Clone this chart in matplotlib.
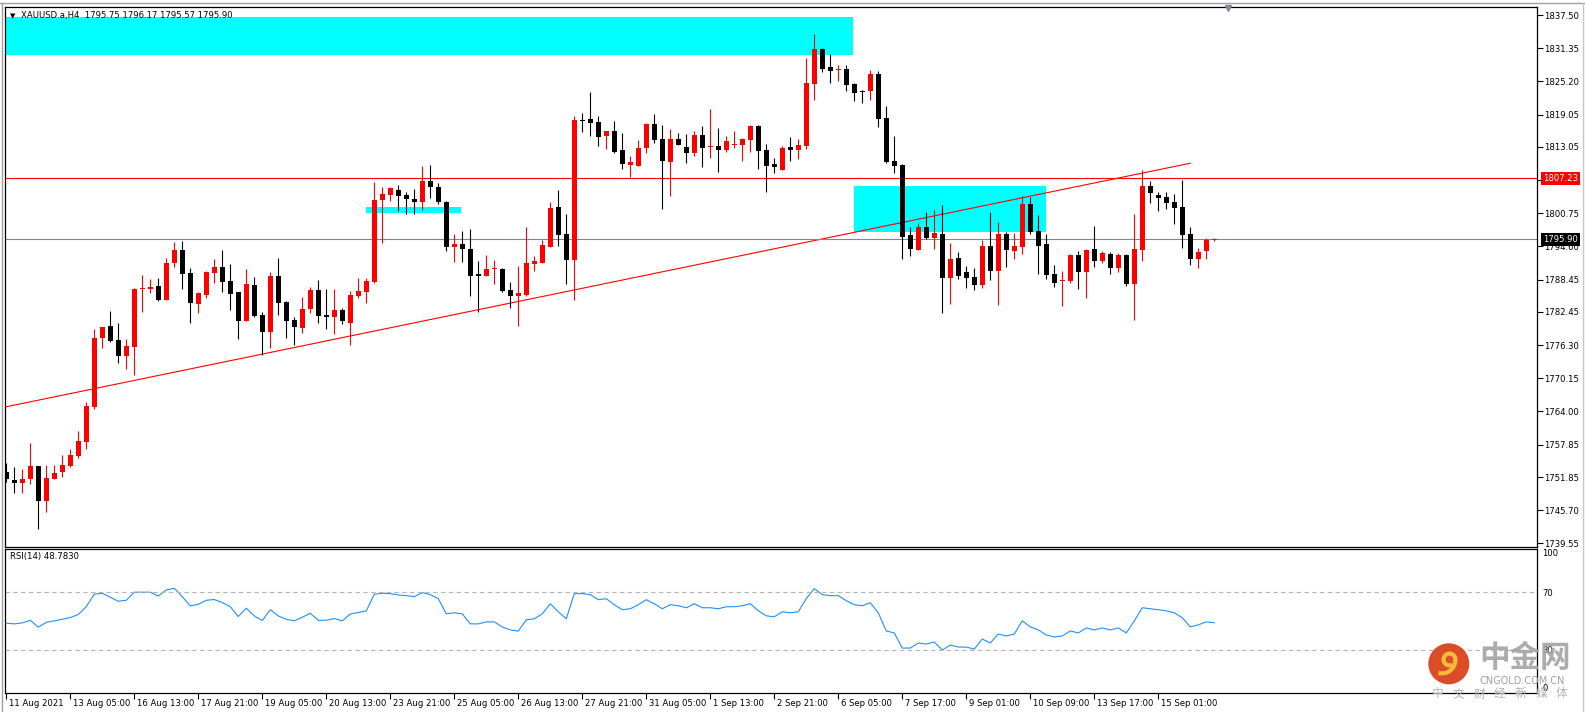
import matplotlib.pyplot as plt
import matplotlib.transforms as mtransforms
from matplotlib.patches import Rectangle, Circle, Wedge
from matplotlib.lines import Line2D
import numpy as np

plt.rcParams['font.family'] = ['DejaVu Sans']

# XAUUSD H4 candles (bar index 0 = 11 Aug 2021)
opens = [1752.72, 1751.30, 1750.67, 1751.41, 1753.89, 1747.46, 1751.54, 1752.83, 1753.95, 1755.80,
         1758.39, 1764.89, 1777.68, 1779.84, 1777.25, 1774.34, 1776.02, 1786.64, 1786.77, 1787.26,
         1784.67, 1791.59, 1793.93, 1789.67, 1783.98, 1785.65, 1789.73, 1790.78, 1788.19, 1786.14,
         1780.83, 1787.45, 1781.88, 1778.79, 1789.11, 1784.29, 1780.96, 1779.54, 1782.93, 1786.52,
         1781.88, 1781.57, 1782.75, 1780.46, 1785.46, 1786.21, 1788.07, 1803.20, 1804.13, 1805.06,
         1804.13, 1803.39, 1802.90, 1806.72, 1805.68, 1802.90, 1794.56, 1795.05, 1794.12, 1789.49,
         1789.17, 1790.34, 1790.41, 1786.52, 1785.46, 1785.59, 1791.40, 1791.59, 1794.55, 1801.90,
         1796.90, 1792.14, 1818.03, 1818.22, 1817.66, 1815.13, 1815.99, 1812.47, 1809.75, 1809.56,
         1812.78, 1817.35, 1814.51, 1810.31, 1814.51, 1813.03, 1811.98, 1815.25, 1813.09, 1813.21,
         1812.47, 1813.34, 1813.46, 1814.39, 1816.98, 1812.47, 1809.88, 1808.82, 1813.03, 1812.53,
         1813.27, 1824.77, 1831.20, 1827.86, 1827.24, 1827.49, 1824.71, 1823.41, 1823.47, 1826.56,
         1818.41, 1810.43, 1809.69, 1796.71, 1793.99, 1798.19, 1796.22, 1796.90, 1788.81, 1792.45,
         1789.79, 1788.92, 1787.45, 1794.67, 1790.10, 1796.90, 1793.81, 1794.56, 1802.46, 1797.46,
         1795.05, 1789.49, 1788.24, 1788.24, 1793.01, 1789.92, 1794.12, 1791.95, 1793.20, 1790.66,
         1793.01, 1787.69, 1793.99, 1805.80, 1804.13, 1803.76, 1802.83, 1801.90, 1796.90, 1792.33,
         1793.81, 1795.75]
highs = [1754.38, 1753.64, 1753.34, 1758.09, 1753.89, 1754.08, 1754.08, 1755.93, 1757.04, 1760.38,
         1765.69, 1779.29, 1779.71, 1782.62, 1780.34, 1777.44, 1786.82, 1789.30, 1788.56, 1788.68,
         1792.39, 1795.35, 1795.60, 1790.53, 1786.21, 1790.04, 1792.27, 1793.93, 1791.34, 1786.14,
         1790.35, 1788.92, 1782.38, 1789.85, 1792.45, 1784.48, 1781.57, 1785.29, 1787.14, 1788.37,
         1786.71, 1786.71, 1783.12, 1786.39, 1788.81, 1788.81, 1806.61, 1805.55, 1805.68, 1805.98,
         1804.68, 1805.25, 1809.56, 1809.69, 1806.42, 1803.02, 1796.90, 1797.51, 1797.83, 1791.89,
         1793.01, 1792.08, 1790.53, 1788.07, 1791.02, 1798.19, 1792.82, 1795.79, 1802.83, 1805.06,
         1800.61, 1818.77, 1819.34, 1823.22, 1818.77, 1815.99, 1817.85, 1815.63, 1811.30, 1814.33,
         1817.54, 1819.21, 1817.11, 1816.37, 1815.63, 1815.44, 1815.99, 1816.92, 1820.08, 1816.56,
         1815.07, 1815.99, 1814.76, 1817.17, 1817.11, 1813.59, 1810.98, 1813.21, 1814.88, 1814.51,
         1829.53, 1833.98, 1831.39, 1830.27, 1828.29, 1828.29, 1824.96, 1823.60, 1827.30, 1827.12,
         1820.63, 1815.13, 1809.88, 1798.25, 1799.00, 1800.98, 1801.35, 1802.28, 1795.30, 1793.56,
         1790.96, 1790.59, 1795.79, 1800.98, 1799.12, 1797.27, 1797.09, 1803.94, 1803.82, 1800.42,
         1796.83, 1791.15, 1790.04, 1793.20, 1793.75, 1794.12, 1798.38, 1793.75, 1793.50, 1793.38,
         1793.20, 1800.61, 1808.77, 1806.66, 1804.68, 1804.68, 1804.32, 1806.97, 1798.19, 1794.31,
         1796.18, 1796.17]
lows = [1750.99, 1748.82, 1748.82, 1750.49, 1742.14, 1745.42, 1751.48, 1751.79, 1753.76, 1755.31,
        1756.98, 1764.39, 1775.83, 1776.93, 1772.92, 1771.81, 1770.82, 1782.51, 1785.90, 1784.42,
        1784.67, 1790.72, 1786.77, 1780.46, 1782.32, 1785.10, 1787.88, 1786.21, 1782.81, 1777.37,
        1780.83, 1781.45, 1774.47, 1775.70, 1781.94, 1777.68, 1776.32, 1778.61, 1782.19, 1780.46,
        1779.29, 1778.29, 1780.22, 1776.32, 1784.97, 1784.17, 1787.75, 1795.29, 1803.07, 1801.16,
        1800.61, 1800.61, 1801.35, 1803.64, 1802.46, 1793.81, 1791.77, 1791.77, 1785.46, 1782.50,
        1789.11, 1787.56, 1786.08, 1783.24, 1779.90, 1785.46, 1790.10, 1791.59, 1794.55, 1794.73,
        1787.63, 1784.66, 1815.87, 1815.07, 1813.27, 1812.66, 1811.98, 1808.95, 1807.46, 1809.56,
        1811.85, 1813.83, 1801.60, 1804.00, 1813.46, 1810.13, 1811.42, 1809.39, 1811.05, 1808.46,
        1812.17, 1812.78, 1810.49, 1812.17, 1809.01, 1804.75, 1808.27, 1808.82, 1810.49, 1810.87,
        1812.72, 1821.80, 1827.00, 1824.96, 1825.32, 1823.47, 1821.61, 1821.25, 1821.80, 1816.80,
        1810.00, 1808.27, 1792.33, 1792.88, 1793.99, 1796.03, 1794.18, 1782.32, 1783.93, 1788.49,
        1786.95, 1786.58, 1786.95, 1788.37, 1783.74, 1790.78, 1792.33, 1793.25, 1796.96, 1789.49,
        1788.62, 1787.14, 1783.61, 1787.88, 1786.77, 1785.10, 1790.85, 1791.59, 1789.55, 1789.92,
        1787.32, 1781.02, 1791.95, 1802.71, 1801.22, 1801.60, 1798.82, 1794.37, 1791.21, 1790.66,
        1792.33, 1795.57]
closes = [1751.41, 1750.67, 1751.48, 1753.89, 1747.46, 1751.66, 1752.59, 1754.08, 1755.93, 1758.52,
          1765.01, 1777.62, 1779.65, 1777.12, 1774.34, 1776.14, 1786.70, 1786.89, 1787.07, 1784.67,
          1791.53, 1793.93, 1789.55, 1784.17, 1785.97, 1789.85, 1790.78, 1788.07, 1785.84, 1780.83,
          1787.63, 1781.76, 1778.79, 1789.11, 1784.17, 1780.83, 1779.71, 1783.00, 1786.52, 1781.76,
          1781.45, 1782.81, 1780.77, 1785.59, 1786.33, 1788.19, 1803.20, 1804.38, 1805.43, 1803.94,
          1803.39, 1802.83, 1806.72, 1805.55, 1802.90, 1794.56, 1794.98, 1794.12, 1789.17, 1789.17,
          1790.41, 1790.47, 1786.33, 1785.46, 1785.96, 1791.52, 1791.89, 1794.92, 1801.71, 1796.77,
          1792.14, 1818.03, 1817.79, 1817.54, 1814.95, 1815.99, 1812.17, 1809.81, 1810.24, 1812.85,
          1817.35, 1814.39, 1810.49, 1814.51, 1813.46, 1811.98, 1815.25, 1812.91, 1813.21, 1812.53,
          1814.14, 1813.59, 1814.57, 1816.98, 1812.34, 1809.56, 1809.39, 1812.85, 1812.53, 1813.40,
          1824.90, 1831.20, 1827.55, 1827.18, 1827.49, 1824.58, 1823.10, 1823.16, 1826.56, 1818.28,
          1810.31, 1809.56, 1796.40, 1794.18, 1798.19, 1796.22, 1797.15, 1788.81, 1792.27, 1789.17,
          1788.81, 1787.45, 1794.67, 1790.10, 1796.90, 1793.93, 1794.67, 1802.46, 1797.27, 1794.73,
          1789.30, 1787.75, 1788.37, 1793.01, 1789.92, 1793.93, 1791.95, 1793.38, 1790.66, 1793.01,
          1787.69, 1794.12, 1805.80, 1804.56, 1803.64, 1802.71, 1801.78, 1796.71, 1792.27, 1793.56,
          1795.80, 1795.90]

# RSI(14) values
rsi = [48.5, 48.0, 48.7, 50.5, 45.7, 49.1, 50.1, 51.2, 52.4, 54.5,
       60.0, 68.6, 69.3, 66.5, 63.7, 64.4, 70.0, 70.0, 70.0, 67.4,
       71.6, 72.7, 66.9, 60.5, 61.6, 64.4, 64.9, 62.8, 60.0, 53.1,
       58.9, 53.5, 50.3, 57.9, 53.5, 51.2, 50.1, 52.6, 55.4, 50.5,
       50.5, 51.7, 50.1, 54.9, 55.9, 57.0, 68.6, 69.3, 69.0, 68.1,
       67.6, 66.9, 69.7, 68.3, 65.5, 55.0, 55.7, 55.0, 48.0, 48.0,
       49.4, 49.4, 45.9, 43.8, 43.0, 50.8, 51.5, 55.0, 62.0, 56.4,
       51.5, 69.0, 69.0, 68.3, 64.8, 65.5, 61.3, 57.8, 58.5, 61.3,
       64.8, 62.0, 58.5, 61.3, 60.6, 59.2, 62.0, 59.2, 59.2, 58.5,
       59.9, 59.9, 60.6, 62.0, 57.1, 53.6, 52.9, 56.4, 55.7, 56.4,
       65.5, 72.5, 68.3, 67.6, 67.6, 64.1, 61.3, 60.6, 62.7, 55.7,
       43.1, 41.7, 31.2, 31.2, 34.7, 34.0, 35.4, 29.8, 33.3, 31.9,
       31.9, 30.5, 37.5, 34.7, 41.0, 39.6, 41.0, 50.1, 45.9, 43.8,
       40.3, 38.9, 39.6, 43.1, 41.7, 45.2, 43.8, 45.2, 43.8, 45.2,
       41.7, 50.1, 59.2, 58.5, 57.8, 57.1, 55.7, 52.2, 45.9, 47.3,
       49.4, 48.78]

time_labels = ['11 Aug 2021', '13 Aug 05:00', '16 Aug 13:00', '17 Aug 21:00', '19 Aug 05:00',
               '20 Aug 13:00', '23 Aug 21:00', '25 Aug 05:00', '26 Aug 13:00', '27 Aug 21:00',
               '31 Aug 05:00', '1 Sep 13:00', '2 Sep 21:00', '6 Sep 05:00', '7 Sep 17:00',
               '9 Sep 01:00', '10 Sep 09:00', '13 Sep 17:00', '15 Sep 01:00']
price_ticks = [1837.50, 1831.35, 1825.20, 1819.05, 1813.05, 1806.90, 1800.75, 1794.60, 1788.45,
               1782.45, 1776.30, 1770.15, 1764.00, 1757.85, 1751.85, 1745.70, 1739.55]
rsi_levels = [70, 30]

# drawn objects: cyan zones, trendline, horizontal lines
zone_x0 = [-1, 44.96, 105.96]
zone_x1 = [105.8, 56.9, 129.96]
zone_lo = [1830.08, 1800.85, 1797.33]
zone_hi = [1837.13, 1801.96, 1805.80]
trend_x = [-1, 148]
trend_y = [1764.57, 1810.02]
level_price = 1807.23
bid_price = 1795.90

W, H = 1585, 712
fs = 6.1
fig = plt.figure(figsize=(W / 100, H / 100), dpi=100)

def fx(px):
    return px / W

def fy(py):
    return 1 - py / H

ax = fig.add_axes([fx(5), fy(546.7), 1531.7 / W, 540 / H])
rsi_ax = fig.add_axes([fx(5), fy(693), 1531.7 / W, 144 / H])

x_left, x_right = -0.16, 191.3
n = len(closes)
idx = np.arange(n)

# zones
for x0, x1, lo, hi in zip(zone_x0, zone_x1, zone_lo, zone_hi):
    ax.add_patch(Rectangle((x0, lo), x1 - x0, hi - lo, facecolor='#00ffff', edgecolor='none', zorder=1))

# candles: red = up, black = down
o = np.array(opens)
c = np.array(closes)
colors = np.where(c >= o, '#ff0000', '#000000')
ax.vlines(idx, lows, highs, colors=colors, linewidth=0.8, zorder=3)
body = np.maximum(np.abs(c - o), 0.2)
ax.bar(idx, body, bottom=np.minimum(o, c), width=0.625, color=colors, linewidth=0, zorder=4)

# lines
ax.plot(trend_x, trend_y, color='#ff0000', linewidth=0.8, zorder=2)
ax.axhline(level_price, color='#ff0000', linewidth=0.8, zorder=2)
ax.axhline(bid_price, color='#778899', linewidth=0.8, zorder=2)

ax.set_xlim(x_left, x_right)
ax.set_ylim(1738.93, 1839.04)
ax.yaxis.tick_right()
ax.set_yticks(price_ticks, ['%.2f' % p for p in price_ticks])
ax.tick_params(axis='y', direction='out', length=4, width=0.8, pad=1.5, labelsize=fs)
ax.tick_params(axis='x', bottom=False, labelbottom=False)

# price boxes on the right scale
blend = mtransforms.blended_transform_factory(ax.transAxes, ax.transData)
ax.text(1.0042, level_price, '%.2f' % level_price, transform=blend, ha='left', va='center',
        color='white', fontsize=fs, clip_on=False, zorder=10,
        bbox=dict(boxstyle='square,pad=0.22', facecolor='#ff0000', edgecolor='none'))
ax.text(1.0042, bid_price, '%.2f' % bid_price, transform=blend, ha='left', va='center',
        color='white', fontsize=fs, clip_on=False, zorder=10,
        bbox=dict(boxstyle='square,pad=0.22', facecolor='#000000', edgecolor='none'))

# RSI panel
rsi_ax.plot(idx, rsi, color='#1e90ff', linewidth=0.8)
for lvl in rsi_levels:
    rsi_ax.axhline(lvl, color='#b4b4b4', linewidth=0.8, linestyle=(0, (4, 3)))
rsi_ax.set_xlim(x_left, x_right)
rsi_ax.set_ylim(0, 100)
rsi_ax.yaxis.tick_right()
rsi_ax.set_yticks([100, 70, 30, 0], ['100', '70', '30', '0'])
rsi_ax.tick_params(axis='y', direction='out', length=0, pad=4, labelsize=fs)
for t in rsi_ax.yaxis.get_major_ticks():
    if t.get_loc() == 100:
        t.label2.set_va('top')
    elif t.get_loc() == 0:
        t.label2.set_va('bottom')

tick_pos = np.arange(len(time_labels)) * 8
rsi_ax.set_xticks(tick_pos, time_labels)
rsi_ax.tick_params(axis='x', direction='out', length=4, width=0.8, pad=0.5, labelsize=fs)
shift = mtransforms.ScaledTranslation(2 / 72, 0, fig.dpi_scale_trans)
for lab in rsi_ax.get_xticklabels():
    lab.set_horizontalalignment('left')
    lab.set_transform(lab.get_transform() + shift)

for a in (ax, rsi_ax):
    for s in a.spines.values():
        s.set_linewidth(0.9)
        s.set_color('black')

# header texts
fig.text(fx(10), fy(15.7), '\u25bc', fontsize=5, va='center')
fig.text(fx(20.7), fy(15.7), 'XAUUSD.a,H4  1795.75 1796.17 1795.57 1795.90', fontsize=fs, va='center')
fig.text(fx(10), fy(557), 'RSI(14) 48.7830', fontsize=fs, va='center')
fig.add_artist(Line2D([fx(1228)], [fy(8)], marker='v', markersize=5, color='#7f8c99',
                      linestyle='none', transform=fig.transFigure))

# window frame bits
fig.add_artist(Line2D([0, 1], [fy(2.5), fy(2.5)], color='#a0a0a0', linewidth=1, transform=fig.transFigure))
fig.add_artist(Line2D([fx(1.7), fx(1.7)], [0, fy(2.5)], color='#a0a0a0', linewidth=1, transform=fig.transFigure))
fig.add_artist(Line2D([fx(1582.7), fx(1582.7)], [0, fy(2.5)], color='#c8c8c8', linewidth=1, transform=fig.transFigure))

# watermark
inch = fig.dpi_scale_trans
fig.add_artist(Circle((14.488, 0.482), 0.205, facecolor='#d9431d', edgecolor='none', alpha=0.95, transform=inch))
fig.add_artist(Wedge((14.495, 0.525), 0.08, -20, 300, width=0.042, facecolor='#f7bb3a', edgecolor='none', transform=inch))
fig.add_artist(Wedge((14.42, 0.52), 0.155, -105, -5, width=0.042, facecolor='#f7bb3a', edgecolor='none', transform=inch))
cjk = ['Noto Sans CJK SC', 'DejaVu Sans']
fig.text(fx(1479), fy(658), '中金网', family=cjk, fontsize=22, fontweight='bold', color='#a3a3a3',
         va='center', alpha=0.9)
fig.text(fx(1480), fy(681), 'CNGOLD.COM.CN', fontsize=7, color='#a0a0a0', va='center')
for k, ch in enumerate('中文财经新媒体'):
    fig.text(fx(1438 + 20.6 * k), fy(694), ch, family=cjk, fontsize=8.5, color='#b4b4b4',
             ha='center', va='center')

fig.savefig('out.png', dpi=100)
